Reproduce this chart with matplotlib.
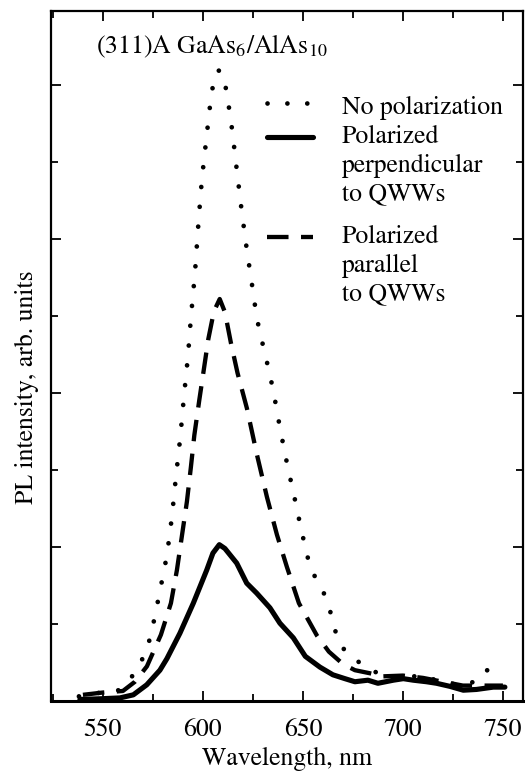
"""
plot.py
PL spectra of (311)A GaAs6/AlAs10 quantum wires for three polarization settings.
"""

import matplotlib
matplotlib.use('Agg')
import matplotlib.pyplot as plt
from matplotlib.ticker import MultipleLocator

# ---------- Data ----------
wl_nopol = [538, 549, 558, 566, 571, 574, 578, 582, 584.5, 586.5, 588.7, 590.5,
            592.5, 594, 596, 597.9, 599.5, 601.7, 603.9, 605.5, 607.5, 609.5,
            611.9, 614.7, 617, 619.4, 622, 624.3, 626.4, 628.2, 630.7, 632.9,
            635.2, 638.7, 642.7, 645, 649.2, 653.9, 658.5, 662.9, 665.2, 668.5,
            674.9, 681.9, 688.5, 697, 710, 717.5, 722.5, 729.4, 737.5, 743.5]
int_nopol = [0.06, 0.11, 0.14, 0.36, 0.61, 0.85, 1.36, 1.89, 2.39, 2.91, 3.43, 3.95,
             4.47, 4.98, 5.55, 6.26, 6.78, 7.30, 7.81, 8.07, 8.19, 8.17,
             7.91, 7.40, 6.88, 6.36, 5.85, 5.45, 5.07, 4.81, 4.55, 4.30,
             4.03, 3.52, 3.00, 2.74, 2.22, 1.70, 1.52, 1.25, 0.99, 0.73,
             0.55, 0.45, 0.34, 0.30, 0.33, 0.26, 0.23, 0.21, 0.26, 0.44]

wl_perp = [538.5, 550, 558.5, 565.2, 571.9, 578.5, 582, 588.5, 595.2, 601.9, 605,
           608.2, 611, 616.9, 621.9, 626.9, 633.5, 638.5, 645.2, 651.2, 658.5,
           665, 671, 676, 682.5, 687.5, 695.2, 700.2, 705.2, 711.8, 716.8,
           723.5, 730.2, 736.8, 745.2, 751]
int_perp = [0.02, 0.03, 0.04, 0.08, 0.21, 0.40, 0.55, 0.88, 1.27, 1.70, 1.92,
            2.03, 1.98, 1.79, 1.53, 1.40, 1.21, 1.01, 0.82, 0.58, 0.44,
            0.34, 0.29, 0.25, 0.27, 0.23, 0.27, 0.29, 0.27, 0.25, 0.23,
            0.19, 0.14, 0.15, 0.18, 0.18]

wl_par = [540, 550, 560, 566, 572, 579, 584, 587, 589.7, 592, 594, 595.7, 598.2,
          600.2, 602.7, 605.5, 608.4, 611, 614, 617.3, 622, 627, 632, 637, 642,
          648, 657, 663, 670, 676, 683.5, 690, 700, 710, 720, 730, 740, 750]
int_par = [0.08, 0.11, 0.13, 0.25, 0.45, 0.86, 1.27, 1.70, 2.18, 2.59, 3.04, 3.45,
           3.91, 4.26, 4.70, 5.06, 5.22, 5.05, 4.65, 4.26, 3.80, 3.20, 2.65, 2.16,
           1.74, 1.27, 0.85, 0.64, 0.48, 0.40, 0.36, 0.32, 0.33, 0.30, 0.25, 0.20,
           0.20, 0.20]

labels = ['No polarization', 'Polarized\nperpendicular\nto QWWs',
          'Polarized\nparallel\nto QWWs']
title = '(311)A GaAs$_6$/AlAs$_{10}$'

# ---------- Style ----------
plt.rcParams['font.family'] = ['STIXGeneral', 'DejaVu Serif']
plt.rcParams['mathtext.fontset'] = 'stix'
FS = 18.5

styles = [
    dict(color='black', lw=3.4, dashes=(0.01, 4.2), dash_capstyle='round'),
    dict(color='black', lw=3.7, solid_capstyle='round'),
    dict(color='black', lw=3.1, dashes=(5.0, 2.9), dash_capstyle='butt'),
]

fig = plt.figure(figsize=(5.25, 7.75), dpi=100)
ax = fig.add_axes([0.097, 0.0955, 0.899, 0.8903])

series = [(wl_nopol, int_nopol), (wl_perp, int_perp), (wl_par, int_par)]
for (x, y), st in zip(series, styles):
    ax.plot(x, y, solid_joinstyle='round', **st)

ax.set_xlim(524, 760)
ax.set_ylim(0, 8.96)
ax.xaxis.set_major_locator(MultipleLocator(50))
ax.xaxis.set_minor_locator(MultipleLocator(25))
ax.yaxis.set_major_locator(MultipleLocator(2))
ax.yaxis.set_minor_locator(MultipleLocator(1))
ax.tick_params(which='both', direction='in', top=True, right=True,
               width=1.3, labelsize=FS, pad=12)
ax.tick_params(which='major', length=7.5)
ax.tick_params(which='minor', length=5)
ax.tick_params(axis='y', labelleft=False)
for side in ['left', 'right', 'top']:
    ax.spines[side].set_linewidth(1.6)
ax.spines['bottom'].set_linewidth(2.2)

ax.set_xlabel('Wavelength, nm', fontsize=FS)
ax.set_ylabel('PL intensity, arb. units', fontsize=FS)
ax.xaxis.set_label_coords(0.5, -0.066)
ax.yaxis.set_label_coords(-0.025, 0.454)

ax.text(0.095, 0.939, title, transform=ax.transAxes, fontsize=FS,
        va='baseline', ha='left')

# ---------- Legend (handle aligned with first line of each label) ----------
handle_y = [0.8662, 0.8178, 0.6729]
text_y = [0.8507, 0.8082, 0.6633]
line_step = 0.0415
for st, lab, hy, ty in zip(styles, labels, handle_y, text_y):
    ax.plot([0.4576, 0.555], [hy, hy], transform=ax.transAxes, **st)
    for k, part in enumerate(lab.split('\n')):
        ax.text(0.6165, ty - k * line_step, part, transform=ax.transAxes,
                fontsize=FS, va='baseline', ha='left')

fig.savefig('out.png', dpi=100)
